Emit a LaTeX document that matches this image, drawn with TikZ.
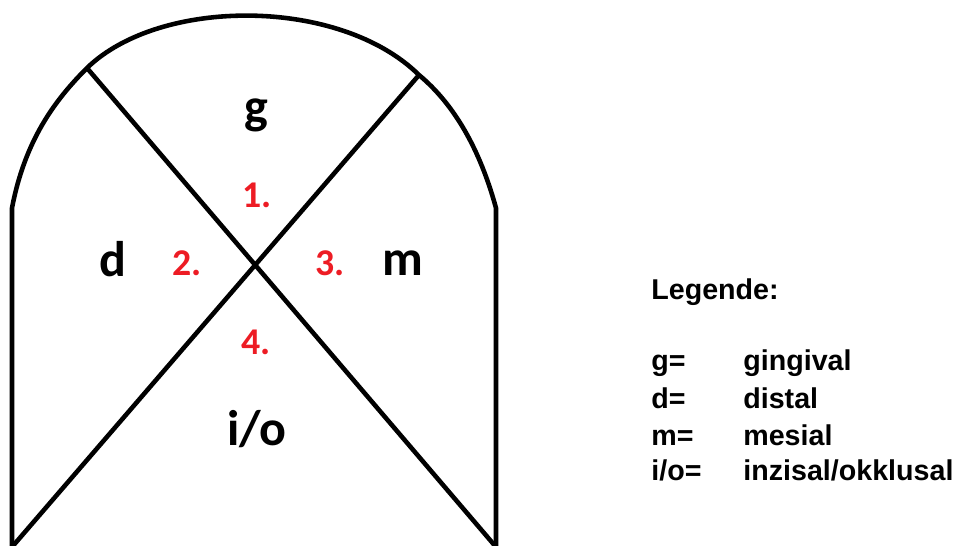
\documentclass[tikz,border=0pt]{standalone}
\usepackage{fontspec}
\setmainfont{Carlito}
\newfontfamily\legendfont{Liberation Sans}
\definecolor{markred}{RGB}{237,28,36}
\tikzset{
  outline/.style={line width=2.6pt, line join=round},
  region/.style={font=\bfseries\fontsize{28.5}{32}\selectfont, anchor=base},
  stepno/.style={font=\bfseries\fontsize{21.5}{24}\selectfont, text=markred, anchor=base},
  legend/.style={font=\legendfont\bfseries\fontsize{16.3}{19}\selectfont, anchor=base west, inner sep=0pt},
}
\begin{document}
\begin{tikzpicture}[x=0.02cm, y=-0.02cm]
  \useasboundingbox (0,0) rectangle (957,545);

  % tooth outline
  \coordinate (lb) at (12,550);
  \coordinate (lt) at (12,208);
  \coordinate (ul) at (87,68);
  \coordinate (ur) at (419,75);
  \coordinate (rt) at (496,208);
  \coordinate (rb) at (496,550);
  \coordinate (dl) at (12,547);
  \coordinate (dr) at (496,547);
  \draw[outline] (lb) -- (lt) .. controls (25,140) and (55,100) .. (ul)
                 .. controls (160,-3) and (340,-3) .. (ur)
                 .. controls (455,105) and (480,150) .. (rt) -- (rb);

  % diagonals
  \draw[outline] (ul) -- (dr);
  \draw[outline] (ur) -- (dl);

  % surfaces
  \node[region] (g)  at (256,123) {g};
  \node[region] (d)  at (113,276) {d};
  \node[region] (m)  at (403,275) {m};
  \node[region] (io) at (257,445) {i/o};

  \node[stepno] (n1) at (257,207) {1.};
  \node[stepno] (n2) at (187,275) {2.};
  \node[stepno] (n3) at (330,275) {3.};
  \node[stepno] (n4) at (256,354) {4.};

  % legend
  \node[legend] (leg) at (651,299) {Legende:};
  \node[legend] (kg)  at (651,370) {g=};
  \node[legend] (kd)  at (651,408) {d=};
  \node[legend] (km)  at (651,445) {m=};
  \node[legend] (kio) at (651,480) {i/o=};
  \node[legend] (vg)  at (743,370) {gingival};
  \node[legend] (vd)  at (743,408) {distal};
  \node[legend] (vm)  at (743,445) {mesial};
  \node[legend] (vio) at (743,480) {inzisal/okklusal};
\end{tikzpicture}
\end{document}
